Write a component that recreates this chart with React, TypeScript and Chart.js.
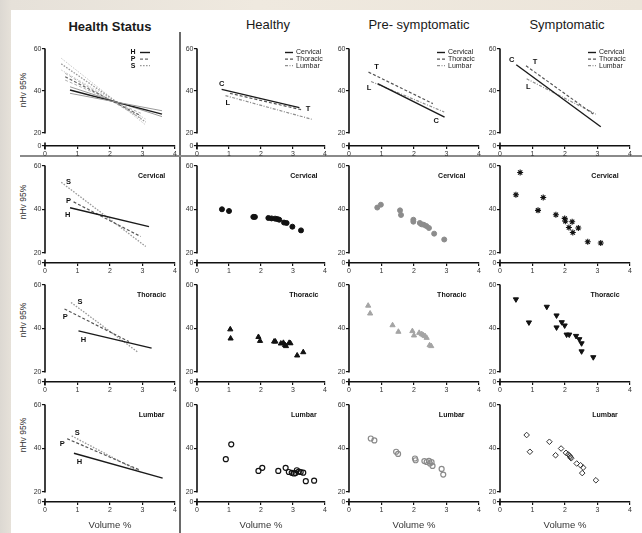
import React, { useEffect, useRef } from 'react';
import { Chart, registerables } from 'chart.js';

Chart.register(...registerables);

const FONT = "'Liberation Sans', Arial, Helvetica, sans-serif";

// ---------- tick / axis labels ----------
const xTicks = [0, 1, 2, 3, 4];
const yTicks = [20, 40, 60];
const columnTitles = ['Health Status', 'Healthy', 'Pre- symptomatic', 'Symptomatic'];
const regionNames = ['Cervical', 'Thoracic', 'Lumbar'];
const yAxisTitle = 'nHv 95%';
const xAxisTitle = 'Volume %';

// ---------- scatter data ----------
const healthyCervX = [0.78, 1.0, 1.76, 1.81, 2.23, 2.33, 2.44, 2.51, 2.57, 2.72, 2.8, 2.98, 3.25];
const healthyCervY = [40.1, 39.3, 36.6, 36.6, 36.1, 35.9, 35.8, 35.6, 35.3, 34.0, 33.8, 32.1, 30.4];
const preCervX = [0.87, 0.98, 1.57, 1.6, 1.98, 1.98, 2.18, 2.23, 2.3, 2.38, 2.46, 2.62, 2.93];
const preCervY = [40.9, 42.2, 39.6, 37.5, 35.3, 34.4, 33.8, 33.2, 33.0, 32.4, 31.5, 28.9, 26.2];
const sympCervX = [0.49, 0.62, 1.17, 1.33, 1.72, 1.99, 2.01, 2.22, 2.12, 2.24, 2.41, 2.7, 3.1];
const sympCervY = [46.8, 57.0, 39.6, 45.5, 37.6, 35.9, 34.6, 34.4, 31.7, 29.4, 31.5, 25.2, 24.6];

const healthyThorX = [1.04, 1.05, 1.92, 1.97, 2.41, 2.45, 2.62, 2.7, 2.75, 2.78, 2.88, 2.92, 3.13, 3.32];
const healthyThorY = [39.6, 35.4, 36.1, 34.3, 34.0, 34.0, 33.1, 33.4, 32.4, 31.9, 33.4, 33.2, 27.6, 29.1];
const preThorX = [0.59, 0.65, 1.34, 1.52, 1.95, 2.0, 2.16, 2.24, 2.29, 2.34, 2.39, 2.48, 2.53];
const preThorY = [50.5, 46.9, 41.5, 38.5, 38.8, 36.8, 38.0, 37.4, 36.9, 36.5, 35.7, 32.3, 31.9];
const sympThorX = [0.49, 0.89, 1.44, 1.74, 1.74, 1.9, 1.99, 2.05, 2.13, 2.34, 2.44, 2.51, 2.51, 2.87];
const sympThorY = [53.4, 42.8, 50.0, 46.0, 40.5, 42.9, 41.4, 37.2, 37.2, 36.6, 35.1, 33.2, 29.5, 26.8];

const healthyLumbX = [0.9, 1.07, 1.92, 2.04, 2.54, 2.77, 2.87, 2.96, 3.03, 3.08, 3.12, 3.18, 3.24, 3.32, 3.4, 3.66];
const healthyLumbY = [35.1, 41.9, 29.7, 31.1, 29.7, 31.1, 29.2, 28.8, 28.5, 28.7, 30.0, 29.4, 29.2, 28.9, 25.0, 25.2];
const preLumbX = [0.67, 0.78, 1.45, 1.51, 2.03, 2.05, 2.32, 2.39, 2.46, 2.49, 2.54, 2.57, 2.85, 2.9];
const preLumbY = [44.6, 43.7, 38.5, 37.5, 35.4, 34.6, 34.2, 33.8, 34.3, 33.1, 33.7, 32.0, 30.6, 28.0];
const sympLumbX = [0.82, 0.92, 1.52, 1.71, 1.88, 2.03, 2.1, 2.15, 2.17, 2.19, 2.36, 2.48, 2.56, 2.53, 2.95];
const sympLumbY = [46.2, 38.5, 43.1, 36.9, 40.0, 38.0, 37.3, 36.5, 36.0, 35.5, 33.1, 32.3, 31.2, 28.7, 25.4];

// ---------- regression lines (start / end) ----------
const hCervLineX = [0.77, 3.2];
const hCervLineY = [40.8, 32.1];
const hThorLineX = [1.03, 3.28];
const hThorLineY = [38.9, 31.0];
const hLumbLineX = [0.89, 3.62];
const hLumbLineY = [37.8, 26.4];
const pCervLineX = [0.88, 2.94];
const pCervLineY = [43.5, 27.6];
const pThorLineX = [0.6, 2.58];
const pThorLineY = [49.0, 34.0];
const pLumbLineX = [0.68, 2.93];
const pLumbLineY = [44.5, 30.0];
const sCervLineX = [0.5, 3.1];
const sCervLineY = [52.5, 23.0];
const sThorLineX = [0.8, 2.87];
const sThorLineY = [52.0, 29.0];
const sLumbLineX = [0.82, 2.95];
const sLumbLineY = [45.8, 29.0];

// ---------- pooled health-status lines (upper, centre, lower) ----------
const fanHX = [0.77, 3.6];
const fanHStart = [42.0, 40.5, 38.9];
const fanHEnd = [27.8, 29.0, 30.6];
const fanPX = [0.62, 2.95];
const fanPStart = [48.4, 46.8, 45.2];
const fanPEnd = [27.0, 28.2, 29.4];
const fanSX = [0.5, 3.1];
const fanSStart = [55.6, 52.9, 50.0];
const fanSEnd = [23.8, 25.2, 26.6];

// ---------- letter annotations ----------
const healthyNotes = [{ t: 'C', x: 0.77, y: 43.2 }, { t: 'L', x: 0.96, y: 34.1 }, { t: 'T', x: 3.47, y: 31.3 }];
const preNotes = [{ t: 'T', x: 0.85, y: 51.6 }, { t: 'L', x: 0.62, y: 41.3 }, { t: 'C', x: 2.68, y: 25.9 }];
const sympNotes = [{ t: 'C', x: 0.36, y: 54.8 }, { t: 'T', x: 1.08, y: 54.0 }, { t: 'L', x: 0.87, y: 42.0 }];
const cervNotes = [{ t: 'S', x: 0.72, y: 52.6 }, { t: 'P', x: 0.72, y: 43.9 }, { t: 'H', x: 0.7, y: 37.3 }];
const thorNotes = [{ t: 'S', x: 1.08, y: 52.0 }, { t: 'P', x: 0.62, y: 45.4 }, { t: 'H', x: 1.18, y: 34.6 }];
const lumbNotes = [{ t: 'S', x: 0.99, y: 47.2 }, { t: 'P', x: 0.53, y: 42.0 }, { t: 'H', x: 1.06, y: 33.6 }];
const regionLabelX = [3.28, 3.34, 3.16, 3.23];
const regionLabelY = 55.2;

// ---------- geometry ----------
const colLeft = [45, 197, 349, 500];
const colRight = [175, 325, 479, 630];
const rowTop = [49, 166, 285, 405];
const rowY20 = [133, 253, 372, 492];
const rowBottom = [146, 263, 382, 502];
const yTitleCenter = [90, 202, 320, 435];
const PAD_TOP = 6;
const PAD_RIGHT = 8;
const Y_W = 22;

type LineStyle = { color: string; dash: number[]; width: number };
const ST: Record<string, LineStyle> = {
  C: { color: '#1a1a1a', dash: [], width: 1.4 },
  T: { color: '#555555', dash: [3, 2], width: 1.2 },
  L: { color: '#8f8f8f', dash: [3, 1.5, 1, 1.5], width: 1.2 },
  H: { color: '#1a1a1a', dash: [], width: 1.4 },
  P: { color: '#555555', dash: [3, 2], width: 1.2 },
  S: { color: '#9a9a9a', dash: [1.6, 1.4], width: 1.3 },
};

const pts = (xs: number[], ys: number[]) => xs.map((x, i) => ({ x, y: ys[i] }));

function lineDs(xs: number[], ys: number[], st: LineStyle, label?: string) {
  return {
    label,
    data: pts(xs, ys),
    showLine: true,
    borderColor: st.color,
    borderDash: st.dash,
    borderWidth: st.width,
    pointRadius: 0,
    fill: false,
  };
}

function pointDs(xs: number[], ys: number[], o: any) {
  return {
    data: pts(xs, ys),
    showLine: false,
    pointStyle: o.style,
    pointRadius: o.r,
    pointBackgroundColor: o.fill,
    pointBorderColor: o.stroke,
    pointBorderWidth: o.bw,
    pointRotation: o.rot || 0,
  };
}

function fanDs(xs: number[], starts: number[], ends: number[], center: LineStyle, bound: string, label: string) {
  return starts.map((s, i) =>
    lineDs(xs, [s, ends[i]], i === 1 ? center : { ...center, color: bound, width: 1 }, i === 1 ? label : undefined)
  );
}

type Spec = {
  row: number;
  col: number;
  datasets: any[];
  legend?: 'pre' | 'post';
  notes?: { t: string; x: number; y: number }[];
  region?: string;
};

function buildSpecs(): Spec[] {
  const specs: Spec[] = [];
  specs.push({
    row: 0, col: 0, legend: 'pre',
    datasets: [
      ...fanDs(fanSX, fanSStart, fanSEnd, ST.S, '#c8c8c8', 'S'),
      ...fanDs(fanPX, fanPStart, fanPEnd, { ...ST.P, color: '#6a6a6a' }, '#b0b0b0', 'P'),
      ...fanDs(fanHX, fanHStart, fanHEnd, ST.H, '#9a9a9a', 'H'),
    ].reverse(),
  });
  specs.push({
    row: 0, col: 1, legend: 'post', notes: healthyNotes,
    datasets: [
      lineDs(hCervLineX, hCervLineY, ST.C, regionNames[0]),
      lineDs(hThorLineX, hThorLineY, ST.T, regionNames[1]),
      lineDs(hLumbLineX, hLumbLineY, ST.L, regionNames[2]),
    ],
  });
  specs.push({
    row: 0, col: 2, legend: 'post', notes: preNotes,
    datasets: [
      lineDs(pCervLineX, pCervLineY, ST.C, regionNames[0]),
      lineDs(pThorLineX, pThorLineY, ST.T, regionNames[1]),
      lineDs(pLumbLineX, pLumbLineY, ST.L, regionNames[2]),
    ],
  });
  specs.push({
    row: 0, col: 3, legend: 'post', notes: sympNotes,
    datasets: [
      lineDs(sCervLineX, sCervLineY, ST.C, regionNames[0]),
      lineDs(sThorLineX, sThorLineY, ST.T, regionNames[1]),
      lineDs(sLumbLineX, sLumbLineY, ST.L, regionNames[2]),
    ],
  });
  const regLines = [
    [hCervLineX, hCervLineY, pCervLineX, pCervLineY, sCervLineX, sCervLineY],
    [hThorLineX, hThorLineY, pThorLineX, pThorLineY, sThorLineX, sThorLineY],
    [hLumbLineX, hLumbLineY, pLumbLineX, pLumbLineY, sLumbLineX, sLumbLineY],
  ];
  const regNotes = [cervNotes, thorNotes, lumbNotes];
  const scatter = [
    [
      pointDs(healthyCervX, healthyCervY, { style: 'circle', r: 2.5, fill: '#111', stroke: '#111', bw: 1 }),
      pointDs(preCervX, preCervY, { style: 'circle', r: 2.5, fill: '#8c8c8c', stroke: '#8c8c8c', bw: 1 }),
      pointDs(sympCervX, sympCervY, { style: 'star', r: 3, fill: '#111', stroke: '#111', bw: 1.1 }),
    ],
    [
      pointDs(healthyThorX, healthyThorY, { style: 'triangle', r: 3, fill: '#111', stroke: '#111', bw: 1 }),
      pointDs(preThorX, preThorY, { style: 'triangle', r: 3, fill: '#a4a4a4', stroke: '#a4a4a4', bw: 1 }),
      pointDs(sympThorX, sympThorY, { style: 'triangle', r: 3, fill: '#111', stroke: '#111', bw: 1, rot: 180 }),
    ],
    [
      pointDs(healthyLumbX, healthyLumbY, { style: 'circle', r: 2.5, fill: 'rgba(255,255,255,0)', stroke: '#111', bw: 1.2 }),
      pointDs(preLumbX, preLumbY, { style: 'circle', r: 2.5, fill: 'rgba(255,255,255,0)', stroke: '#8a8a8a', bw: 1.2 }),
      pointDs(sympLumbX, sympLumbY, { style: 'rectRot', r: 2.8, fill: 'rgba(255,255,255,0)', stroke: '#333', bw: 1 }),
    ],
  ];
  for (let r = 0; r < 3; r++) {
    const L = regLines[r];
    specs.push({
      row: r + 1, col: 0, notes: regNotes[r], region: regionNames[r],
      datasets: [lineDs(L[0], L[1], ST.H), lineDs(L[2], L[3], ST.P), lineDs(L[4], L[5], ST.S)],
    });
    for (let c = 0; c < 3; c++) {
      specs.push({ row: r + 1, col: c + 1, region: regionNames[r], datasets: [scatter[r][c]] });
    }
  }
  return specs;
}

function geom(row: number, col: number) {
  const xH = row === 3 ? 32 : 13;
  const top = rowTop[row];
  const bottom = rowBottom[row];
  const ppu = (rowY20[row] - top) / 40;
  const yMin = 60 - (bottom - top) / ppu;
  const areaW = colRight[col] - colLeft[col];
  return {
    left: colLeft[col] - Y_W,
    top: top - PAD_TOP,
    w: Y_W + areaW + PAD_RIGHT,
    h: PAD_TOP + (bottom - top) + xH,
    xH,
    yMin,
  };
}

function buildConfig(spec: Spec): any {
  const g = geom(spec.row, spec.col);
  const tickFont = { family: FONT, size: 7 };

  const brokenAxis = {
    id: 'brokenAxis',
    beforeDatasetsDraw(chart: any) {
      const { ctx, chartArea, scales } = chart;
      const y = scales.y;
      const x0 = chartArea.left;
      ctx.save();
      ctx.strokeStyle = '#111';
      ctx.lineWidth = 1.6;
      ctx.beginPath();
      ctx.moveTo(x0, y.getPixelForValue(60) - 0.5);
      ctx.lineTo(x0, y.getPixelForValue(20) + 0.5);
      ctx.moveTo(x0, chartArea.bottom - 3.5);
      ctx.lineTo(x0, chartArea.bottom + 3.5);
      ctx.stroke();
      ctx.restore();
    },
  };

  const inlineLegend = {
    id: 'inlineLegend',
    afterDatasetsDraw(chart: any) {
      if (!spec.legend) return;
      const { ctx, chartArea } = chart;
      const items = chart.data.datasets.filter((d: any) => d.label);
      ctx.save();
      items.forEach((d: any, i: number) => {
        const y = chartArea.top + 3.5 + i * 6.6;
        const l = chartArea.left;
        let x1: number, x2: number;
        if (spec.legend === 'pre') {
          ctx.font = `bold 7px ${FONT}`;
          ctx.fillStyle = '#111';
          ctx.textAlign = 'center';
          ctx.textBaseline = 'middle';
          ctx.fillText(d.label, l + 88, y);
          x1 = l + 95;
          x2 = l + 105;
        } else {
          ctx.font = `7px ${FONT}`;
          ctx.fillStyle = '#222';
          ctx.textAlign = 'left';
          ctx.textBaseline = 'middle';
          ctx.fillText(d.label, l + 99, y);
          x1 = l + 88;
          x2 = l + 96;
        }
        ctx.strokeStyle = d.borderColor;
        ctx.lineWidth = d.borderWidth;
        ctx.setLineDash(d.borderDash || []);
        ctx.beginPath();
        ctx.moveTo(x1, y);
        ctx.lineTo(x2, y);
        ctx.stroke();
        ctx.setLineDash([]);
      });
      ctx.restore();
    },
  };

  const notes = {
    id: 'notes',
    afterDatasetsDraw(chart: any) {
      const { ctx, scales } = chart;
      ctx.save();
      ctx.textAlign = 'center';
      ctx.textBaseline = 'middle';
      ctx.fillStyle = '#111';
      ctx.font = `bold 7.5px ${FONT}`;
      (spec.notes || []).forEach((n) => {
        ctx.fillText(n.t, scales.x.getPixelForValue(n.x), scales.y.getPixelForValue(n.y));
      });
      if (spec.region) {
        ctx.font = `bold 7px ${FONT}`;
        ctx.fillText(
          spec.region,
          scales.x.getPixelForValue(regionLabelX[spec.col]),
          scales.y.getPixelForValue(regionLabelY)
        );
      }
      ctx.restore();
    },
  };

  return {
    type: 'scatter',
    data: { datasets: spec.datasets },
    options: {
      animation: false,
      responsive: false,
      maintainAspectRatio: false,
      events: [],
      layout: { padding: { top: PAD_TOP, right: PAD_RIGHT, left: 0, bottom: 0 } },
      plugins: { legend: { display: false }, tooltip: { enabled: false } },
      scales: {
        x: {
          type: 'linear',
          min: xTicks[0],
          max: xTicks[xTicks.length - 1],
          afterBuildTicks: (s: any) => {
            s.ticks = xTicks.map((v) => ({ value: v }));
          },
          ticks: { font: tickFont, color: '#333', padding: 0.5, maxRotation: 0, autoSkip: false },
          grid: { drawOnChartArea: false, drawTicks: true, tickLength: 3, color: '#111', lineWidth: 1.2 },
          border: { display: true, color: '#111', width: 1.6 },
          title: spec.row === 3
            ? { display: true, text: xAxisTitle, color: '#333', font: { family: FONT, size: 9.5 }, padding: { top: 0, bottom: 3.3 } }
            : { display: false },
          afterFit: (s: any) => {
            s.height = g.xH;
          },
        },
        y: {
          type: 'linear',
          min: g.yMin,
          max: 60,
          afterBuildTicks: (s: any) => {
            s.ticks = [g.yMin, ...yTicks].map((v) => ({ value: v }));
          },
          ticks: {
            font: tickFont,
            color: '#333',
            padding: 0.5,
            autoSkip: false,
            callback: (v: number) => (v < yTicks[0] ? '0' : String(v)),
          },
          grid: { drawOnChartArea: false, drawTicks: true, tickLength: 3, color: '#111', lineWidth: 1.2 },
          border: { display: false },
          afterFit: (s: any) => {
            s.width = Y_W;
          },
        },
      },
    },
    plugins: [brokenAxis, inlineLegend, notes],
  };
}

function Panel({ spec }: { spec: Spec }) {
  const ref = useRef<HTMLCanvasElement>(null);
  const g = geom(spec.row, spec.col);
  useEffect(() => {
    const chart = new Chart(ref.current as HTMLCanvasElement, buildConfig(spec));
    return () => chart.destroy();
  }, []);
  return (
    <div style={{ position: 'absolute', left: g.left, top: g.top, width: g.w, height: g.h }}>
      <canvas ref={ref} width={g.w} height={g.h} style={{ width: g.w, height: g.h, display: 'block' }} />
    </div>
  );
}

const titleCenters = [
  { x: 110, y: 27, bold: true },
  { x: 268, y: 25, bold: false },
  { x: 419, y: 25, bold: false },
  { x: 567, y: 25, bold: false },
];

export default function App() {
  const specs = buildSpecs();
  return (
    <div
      style={{
        position: 'fixed',
        left: 0,
        top: 0,
        width: 642,
        height: 533,
        overflow: 'hidden',
        background: 'linear-gradient(90deg, #dcd8d2 0px, #e6e1d9 11px, #efe9df 40%, #ece5da 100%)',
        fontFamily: FONT,
      }}
    >
      <div style={{ position: 'absolute', left: 11, top: 10, right: 0, bottom: 0, background: '#ffffff' }} />
      <div style={{ position: 'absolute', left: 179, top: 32, width: 1.6, height: 501, background: '#6a6a6a' }} />
      <div style={{ position: 'absolute', left: 20, top: 155, right: 0, height: 2, background: '#8a8a8a' }} />
      {columnTitles.map((t, i) => (
        <div
          key={t}
          style={{
            position: 'absolute',
            left: titleCenters[i].x - 90,
            top: titleCenters[i].y - 8,
            width: 180,
            height: 16,
            lineHeight: '16px',
            textAlign: 'center',
            fontSize: 13,
            fontWeight: titleCenters[i].bold ? 'bold' : 'normal',
            color: '#1a1a1a',
            whiteSpace: 'nowrap',
          }}
        >
          {t}
        </div>
      ))}
      {yTitleCenter.map((cy, i) => (
        <div
          key={'yt' + i}
          style={{
            position: 'absolute',
            left: 23 - 40,
            top: cy - 6,
            width: 80,
            height: 12,
            lineHeight: '12px',
            textAlign: 'center',
            fontSize: 8.5,
            color: '#333',
            transform: 'rotate(-90deg)',
            whiteSpace: 'nowrap',
          }}
        >
          {yAxisTitle}
        </div>
      ))}
      {specs.map((s) => (
        <Panel key={s.row + '-' + s.col} spec={s} />
      ))}
    </div>
  );
}
